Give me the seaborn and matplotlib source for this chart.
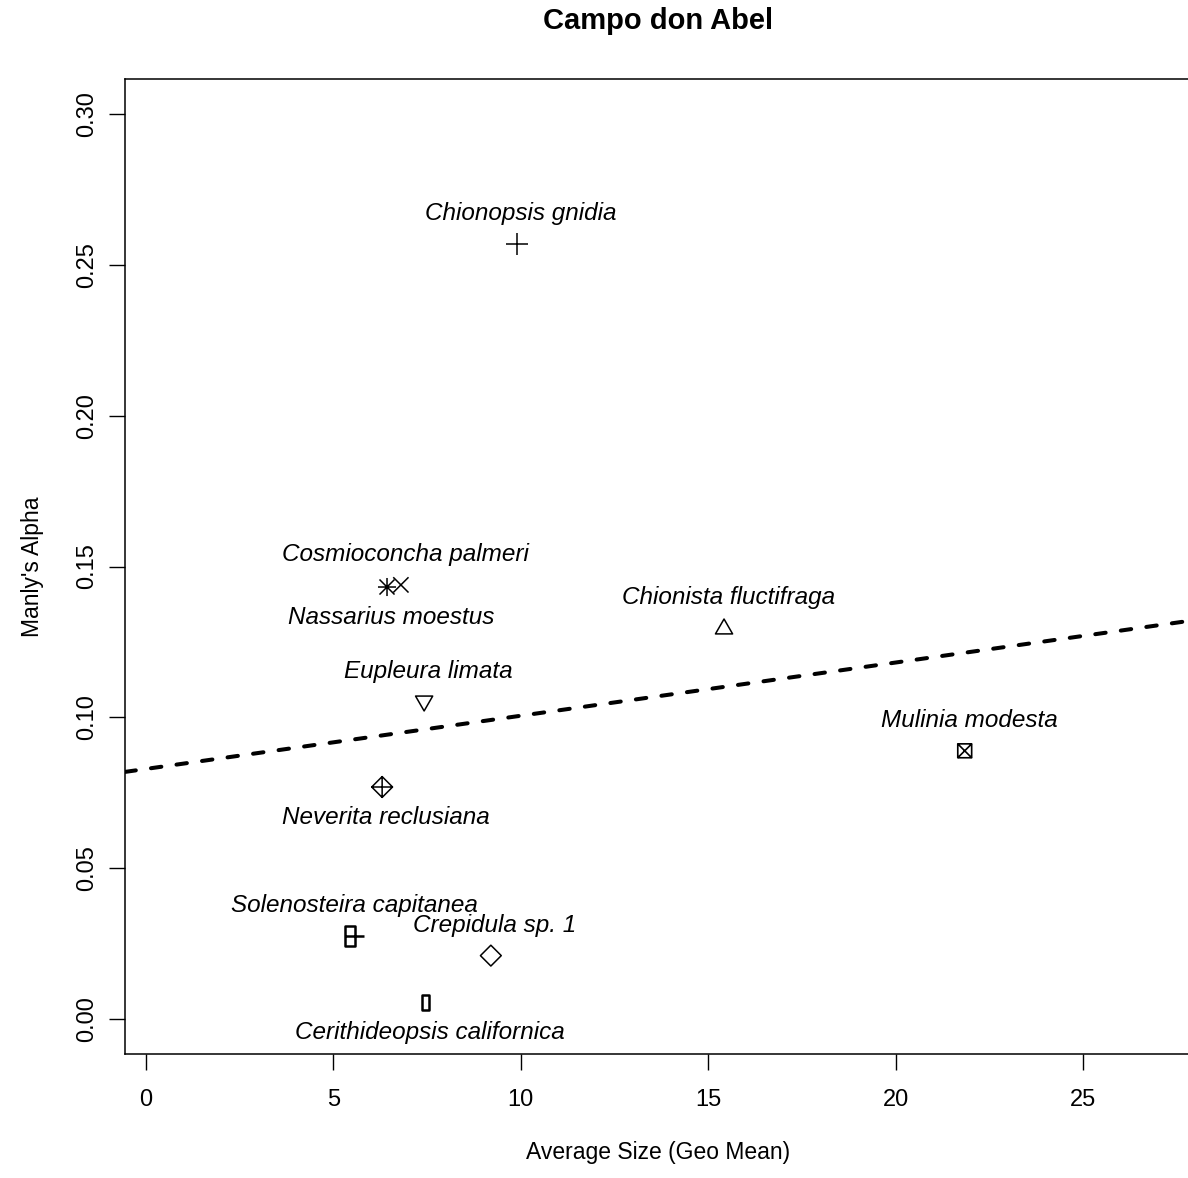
import numpy as np
import pandas as pd
import matplotlib
matplotlib.use("Agg")
import matplotlib.pyplot as plt
from matplotlib.path import Path
import seaborn as sns

# ----- Data -----
species = ["Chionopsis gnidia", "Cosmioconcha palmeri", "Nassarius moestus",
           "Chionista fluctifraga", "Eupleura limata", "Mulinia modesta",
           "Neverita reclusiana", "Solenosteira capitanea", "Crepidula sp. 1",
           "Cerithideopsis californica"]
avg_size = [9.89, 6.80, 6.43, 15.42, 7.42, 21.84, 6.30, 5.44, 9.20, 7.46]
manly_alpha = [0.2569, 0.1439, 0.1432, 0.1296, 0.1051, 0.0889, 0.0769, 0.0276, 0.0210, 0.0055]
label_side = ["above", "above", "below", "above", "above", "above",
              "below", "above", "above", "below"]

x_ticks = [0, 5, 10, 15, 20, 25]
y_ticks = [0.00, 0.05, 0.10, 0.15, 0.20, 0.25, 0.30]

df = pd.DataFrame({"species": species, "size": avg_size, "alpha": manly_alpha})

# ----- Markers (R pch look-alikes) -----
M, L, C = Path.MOVETO, Path.LINETO, Path.CLOSEPOLY
plus = Path([(-1, 0), (1, 0), (0, -1), (0, 1)], [M, L, M, L])
cross = Path([(-1, -1), (1, 1), (-1, 1), (1, -1)], [M, L, M, L])
star = Path([(-1, -1), (1, 1), (-1, 1), (1, -1), (-1.2, 0), (1.2, 0), (0, -1.2), (0, 1.2)],
            [M, L, M, L, M, L, M, L])
tri_up = Path([(0, 1), (-0.95, -0.65), (0.95, -0.65), (0, 1)], [M, L, L, C])
tri_dn = Path([(0, -1), (-0.95, 0.65), (0.95, 0.65), (0, -1)], [M, L, L, C])
sq_x = Path([(-1, -1), (1, -1), (1, 1), (-1, 1), (-1, -1), (-1, -1), (1, 1), (-1, 1), (1, -1)],
            [M, L, L, L, C, M, L, M, L])
dia_plus = Path([(0, -1), (1, 0), (0, 1), (-1, 0), (0, -1), (-1, 0), (1, 0), (0, -1), (0, 1)],
                [M, L, L, L, C, M, L, M, L])
dia = Path([(0, -1), (1, 0), (0, 1), (-1, 0), (0, -1)], [M, L, L, L, C])
rect = Path([(-0.35, -0.75), (0.35, -0.75), (0.35, 0.75), (-0.35, 0.75), (-0.35, -0.75)],
            [M, L, L, L, C])
rect_dash = Path([(-0.35, -0.75), (0.35, -0.75), (0.35, 0.75), (-0.35, 0.75), (-0.35, -0.75),
                  (-0.35, 0), (1.05, 0)], [M, L, L, L, C, M, L])

# marker, size (pt), line width
styles = [(plus, 16, 1.1), (cross, 11, 1.1), (star, 13, 1.1), (tri_up, 13, 1.1),
          (tri_dn, 13, 1.1), (sq_x, 10, 1.2), (dia_plus, 15, 1.1), (rect_dash, 20, 1.8),
          (dia, 15, 1.1), (rect, 10.5, 1.8)]

# ----- Plot -----
sns.set_theme(style="white")
plt.rcParams["font.family"] = ["Liberation Sans", "DejaVu Sans"]
plt.rcParams["text.color"] = "black"
plt.rcParams["axes.labelcolor"] = "black"

fig = plt.figure(figsize=(11.88, 11.78), dpi=100)
ax = fig.add_axes([0.1056, 0.1053, 0.8961, 0.8276])
ax.set_xlim(-0.547, 27.85)
ax.set_ylim(-0.0116, 0.3116)

sns.regplot(data=df, x="size", y="alpha", ax=ax, scatter=False, ci=None,
            truncate=False, color="black",
            line_kws=dict(lw=2.9, ls="--", dashes=(2.6, 3.8), dash_capstyle="round"))

for i, (m, sz, lw) in enumerate(styles):
    sns.scatterplot(data=df.iloc[[i]], x="size", y="alpha", ax=ax, marker=m,
                    s=sz ** 2, facecolor="none", edgecolor="black", linewidth=lw,
                    zorder=3)
    dy = 22 if label_side[i] == "above" else -22
    ax.annotate(species[i], (avg_size[i], manly_alpha[i]), xytext=(3, dy),
                textcoords="offset points", ha="center", va="center",
                fontsize=17.5, fontstyle="italic", color="black")

ax.set_xlim(-0.547, 27.85)
ax.set_ylim(-0.0116, 0.3116)
ax.set_xticks(x_ticks)
ax.set_yticks(y_ticks)
ax.set_yticklabels([f"{v:.2f}" for v in y_ticks], rotation=90, va="center")
ax.tick_params(axis="both", direction="out", length=11.5, width=1.0, labelsize=17,
               color="black", labelcolor="black")
ax.tick_params(axis="x", pad=14, bottom=True)
ax.tick_params(axis="y", pad=8, left=True)
for s in ax.spines.values():
    s.set_color("black")
    s.set_linewidth(1.1)

ax.set_xlabel("Average Size (Geo Mean)", fontsize=16.5, labelpad=21)
ax.set_ylabel("Manly's Alpha", fontsize=16.5, labelpad=23)
ax.set_title("Campo don Abel", fontsize=21, fontweight="bold", pad=36)

fig.savefig("out.png", dpi=100)
